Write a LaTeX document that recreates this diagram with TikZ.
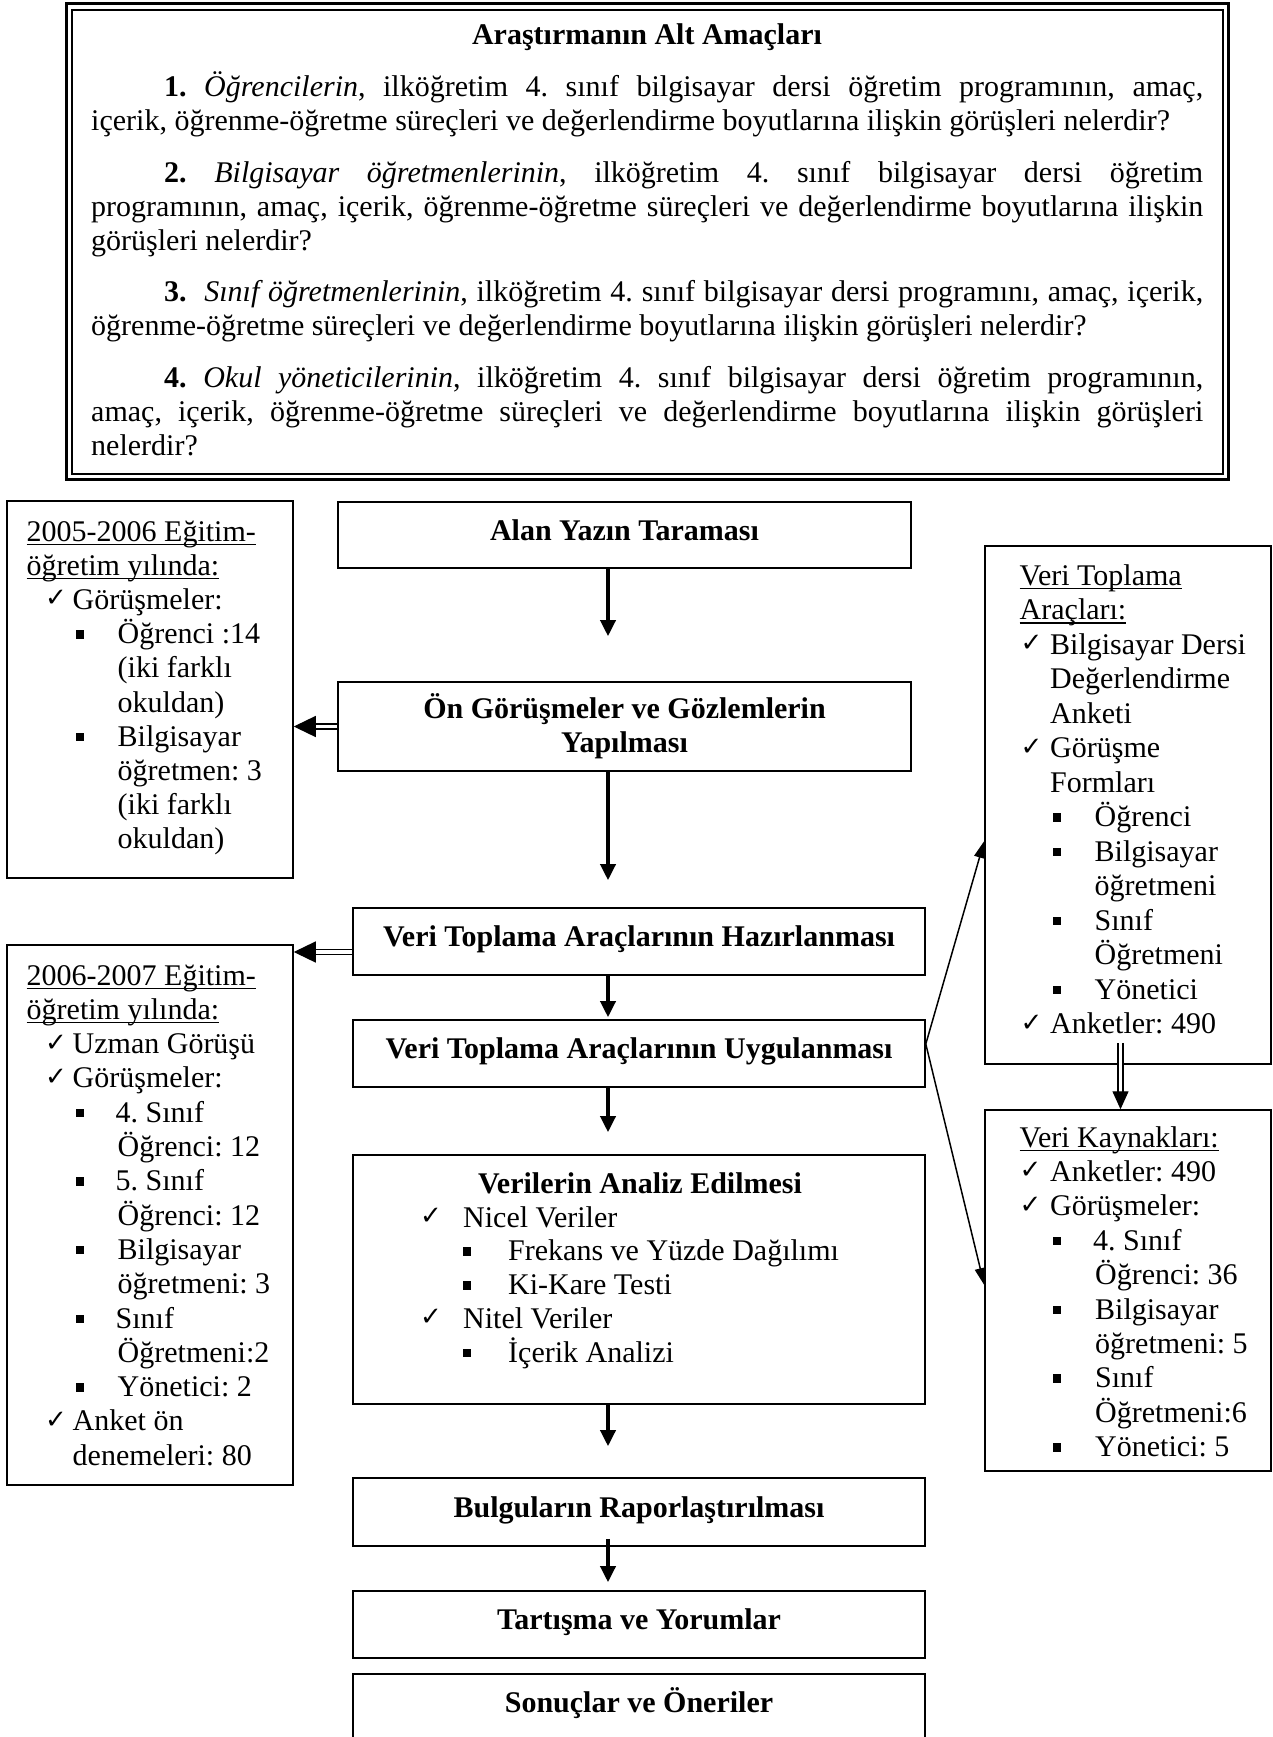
\documentclass[tikz,border=0pt]{standalone}
\usepackage{fontspec}
\setmainfont{Liberation Serif}
\newfontfamily\dejavu{DejaVu Sans}
\usetikzlibrary{arrows.meta,calc}
\frenchspacing

% underline at a fixed depth under the baseline
\newlength\ulwd
\newcommand\undl[1]{\settowidth\ulwd{#1}\makebox[0pt][l]{\rule[-4pt]{\ulwd}{1.5pt}}#1}
% check mark and square bullet
\newcommand\chk{\raisebox{2.5pt}{\dejavu\fontsize{26pt}{26pt}\selectfont ✓}}
\newcommand\sqb{\rule[5pt]{8pt}{8.5pt}}
% put #2 at offset #1 from the start of the line, taking no width
\newcommand\putat[2]{\makebox[0pt][l]{\hspace*{#1}#2}}
% a justified line across the full width
\newcommand\jline[1]{\makebox[\linewidth][s]{#1}}

\begin{document}
\begin{tikzpicture}[x=1pt,y=-1pt,
  font={\fontsize{30pt}{34pt}\selectfont},
  frame/.style={draw, line width=1.6pt, inner sep=0pt},
  sideframe/.style={draw, line width=1.5pt, inner sep=0pt},
  onetext/.style={font={\fontsize{30pt}{34pt}\selectfont\bfseries}, text height=22pt, text depth=12pt},
  txt/.style={inner sep=0pt, anchor=base west},
  mainarr/.style={line width=3.5pt, -{Triangle[width=15pt,length=16pt]}},
  dblarr/.style={double, double distance=3.6pt, line width=1.3pt, -{Triangle[width=21pt,length=22pt]}},
  thinarr/.style={line width=1.5pt, -{Triangle[width=11pt,length=17pt]}},
]
\fill[white] (0,0) rectangle (1273,1737);
\useasboundingbox (0,0) rectangle (1273,1737);

% ---------- research aims ----------
\node[draw, line width=3pt, inner sep=0pt, minimum width=1162pt, minimum height=475pt] (aimsout) at (647,241.5) {};
\node[draw, line width=1.3pt, inner sep=0pt, minimum width=1151pt, minimum height=464pt] (aimsin) at (647.5,242) {};
\node[inner sep=0pt, anchor=base, font={\fontsize{30pt}{34pt}\selectfont\bfseries}] (aimstitle) at (647,45) {Araştırmanın Alt Amaçları};
\node[txt] (aims) at (91,96.5) {\parbox[t]{1112pt}{\fontsize{30pt}{34pt}\selectfont
\jline{\hspace*{73pt}\textbf{1.} \textit{Öğrencilerin}, ilköğretim 4. sınıf bilgisayar dersi öğretim programının, amaç,}\\
içerik, öğrenme-öğretme süreçleri ve değerlendirme boyutlarına ilişkin görüşleri nelerdir?\\[17.5pt]
\jline{\hspace*{73pt}\textbf{2.} \textit{Bilgisayar öğretmenlerinin}, ilköğretim 4. sınıf bilgisayar dersi öğretim}\\
\jline{programının, amaç, içerik, öğrenme-öğretme süreçleri ve değerlendirme boyutlarına ilişkin}\\
görüşleri nelerdir?\\[17.5pt]
\jline{\hspace*{73pt}\textbf{3.}\ \ \textit{Sınıf öğretmenlerinin}, ilköğretim 4. sınıf bilgisayar dersi programını, amaç, içerik,}\\
öğrenme-öğretme süreçleri ve değerlendirme boyutlarına ilişkin görüşleri nelerdir?\\[17.5pt]
\jline{\hspace*{73pt}\textbf{4.} \textit{Okul yöneticilerinin}, ilköğretim 4. sınıf bilgisayar dersi öğretim programının,}\\
\jline{amaç, içerik, öğrenme-öğretme süreçleri ve değerlendirme boyutlarına ilişkin görüşleri}\\
nelerdir?}};

% ---------- main flow ----------
\node[frame, onetext, minimum width=573pt, minimum height=66pt] (alan) at (624.5,535) {Alan Yazın Taraması};
\node[frame, minimum width=573pt, minimum height=89pt] (on) at (624.5,726.5) {};
\node[inner sep=0pt, anchor=base] (ont) at (624.5,718) {\parbox[t]{560pt}{\centering\bfseries\fontsize{30pt}{34pt}\selectfont Ön Görüşmeler ve Gözlemlerin\\Yapılması}};
\node[frame, onetext, minimum width=572pt, minimum height=67pt] (hazir) at (639,941.5) {Veri Toplama Araçlarının Hazırlanması};
\node[frame, onetext, minimum width=572pt, minimum height=67pt] (uyg) at (639,1053.5) {Veri Toplama Araçlarının Uygulanması};
\node[frame, minimum width=572pt, minimum height=249pt] (ver) at (639,1279.5) {};
\node[inner sep=0pt, anchor=base, font={\fontsize{30pt}{34pt}\selectfont\bfseries}] (vert) at (640,1193) {Verilerin Analiz Edilmesi};
\node[txt] (verl) at (420,1227) {\parbox[t]{480pt}{\raggedright\fontsize{30pt}{33.8pt}\selectfont
\putat{0pt}{\chk}\hspace*{43pt}Nicel Veriler\\
\putat{43pt}{\sqb}\hspace*{88pt}Frekans ve Yüzde Dağılımı\\
\putat{43pt}{\sqb}\hspace*{88pt}Ki-Kare Testi\\
\putat{0pt}{\chk}\hspace*{43pt}Nitel Veriler\\
\putat{43pt}{\sqb}\hspace*{88pt}İçerik Analizi}};
\node[frame, onetext, minimum width=572pt, minimum height=68pt] (bul) at (639,1512) {Bulguların Raporlaştırılması};
\node[frame, onetext, minimum width=572pt, minimum height=67pt] (tar) at (639,1624.5) {Tartışma ve Yorumlar};
\node[frame, onetext, minimum width=572pt, minimum height=67pt] (son) at (639,1707.5) {Sonuçlar ve Öneriler};

\coordinate (ax) at (608,0);
\draw[mainarr] (alan.south -| ax) -- ($(on.north -| ax)+(0,-45)$);
\draw[mainarr] (on.south -| ax) -- ($(hazir.north -| ax)+(0,-27)$);
\draw[mainarr] (hazir.south -| ax) -- ($(uyg.north -| ax)+(0,-2)$);
\draw[mainarr] (uyg.south -| ax) -- ($(ver.north -| ax)+(0,-22)$);
\draw[mainarr] (ver.south -| ax) -- ($(bul.north -| ax)+(0,-31)$);
\draw[mainarr] ($(bul.south -| ax)+(0,-8)$) -- ($(tar.north -| ax)+(0,-8)$);

% ---------- left boxes ----------
\node[sideframe, minimum width=286pt, minimum height=377pt] (box1) at (150,689.5) {};
\node[txt] (box1t) at (26.5,541) {\parbox[t]{300pt}{\raggedright\fontsize{30pt}{34.2pt}\selectfont
\undl{2005-2006 Eğitim-}\\
\undl{öğretim yılında:}\\
\putat{18.5pt}{\chk}\hspace*{46pt}Görüşmeler:\\
\putat{49pt}{\sqb}\hspace*{91pt}Öğrenci :14\\
\hspace*{91pt}(iki farklı\\
\hspace*{91pt}okuldan)\\
\putat{49pt}{\sqb}\hspace*{91pt}Bilgisayar\\
\hspace*{91pt}öğretmen: 3\\
\hspace*{91pt}(iki farklı\\
\hspace*{91pt}okuldan)}};

\node[sideframe, minimum width=286pt, minimum height=540pt] (box2) at (150,1215) {};
\node[txt] (box2t) at (26.5,985) {\parbox[t]{300pt}{\raggedright\fontsize{30pt}{34.3pt}\selectfont
\undl{2006-2007 Eğitim-}\\
\undl{öğretim yılında:}\\
\putat{18.5pt}{\chk}\hspace*{46pt}Uzman Görüşü\\
\putat{18.5pt}{\chk}\hspace*{46pt}Görüşmeler:\\
\putat{49pt}{\sqb}\hspace*{89pt}4. Sınıf\\
\hspace*{91pt}Öğrenci: 12\\
\putat{49pt}{\sqb}\hspace*{89pt}5. Sınıf\\
\hspace*{91pt}Öğrenci: 12\\
\putat{49pt}{\sqb}\hspace*{91pt}Bilgisayar\\
\hspace*{91pt}öğretmeni: 3\\
\putat{49pt}{\sqb}\hspace*{89pt}Sınıf\\
\hspace*{91pt}Öğretmeni:2\\
\putat{49pt}{\sqb}\hspace*{91pt}Yönetici: 2\\
\putat{18.5pt}{\chk}\hspace*{46pt}Anket ön\\
\hspace*{46pt}denemeleri: 80}};

\draw[dblarr] (on.west) -- (on.west -| box1.east);
\coordinate (hz) at ($(hazir.west)+(0,10.5)$);
\draw[dblarr] (hz) -- (hz -| box2.east);

% ---------- right boxes ----------
\node[sideframe, minimum width=286pt, minimum height=518pt] (vta) at (1128,805) {};
\node[txt] (vtat) at (1019.5,585) {\parbox[t]{300pt}{\raggedright\fontsize{30pt}{34.5pt}\selectfont
\undl{Veri Toplama}\\
\undl{Araçları:}\\
\putat{1pt}{\chk}\hspace*{30.5pt}Bilgisayar Dersi\\
\hspace*{30.5pt}Değerlendirme\\
\hspace*{30.5pt}Anketi\\
\putat{1pt}{\chk}\hspace*{30.5pt}Görüşme\\
\hspace*{30.5pt}Formları\\
\putat{33pt}{\sqb}\hspace*{75pt}Öğrenci\\
\putat{33pt}{\sqb}\hspace*{75pt}Bilgisayar\\
\hspace*{75pt}öğretmeni\\
\putat{33pt}{\sqb}\hspace*{75pt}Sınıf\\
\hspace*{75pt}Öğretmeni\\
\putat{33pt}{\sqb}\hspace*{75pt}Yönetici\\
\putat{1pt}{\chk}\hspace*{30.5pt}Anketler: 490}};

\node[sideframe, minimum width=286pt, minimum height=361pt] (vk) at (1128,1290.5) {};
\node[txt] (vkt) at (1019.5,1147) {\parbox[t]{300pt}{\raggedright\fontsize{30pt}{34.4pt}\selectfont
\undl{Veri Kaynakları:}\\
\putat{0pt}{\chk}\hspace*{30.5pt}Anketler: 490\\
\putat{0pt}{\chk}\hspace*{30.5pt}Görüşmeler:\\
\putat{33pt}{\sqb}\hspace*{73.5pt}4. Sınıf\\
\hspace*{75.5pt}Öğrenci: 36\\
\putat{33pt}{\sqb}\hspace*{75.5pt}Bilgisayar\\
\hspace*{75.5pt}öğretmeni: 5\\
\putat{33pt}{\sqb}\hspace*{75.5pt}Sınıf\\
\hspace*{75.5pt}Öğretmeni:6\\
\putat{33pt}{\sqb}\hspace*{75.5pt}Yönetici: 5}};

\coordinate (vtab) at ($(vta.south)+(-7.5,-22)$);
\draw[dblarr, -{Triangle[width=16pt,length=18pt]}] (vtab) -- (vtab |- vk.north);

\coordinate (uo) at ($(uyg.east)+(0,-9.5)$);
\draw[thinarr] (uo) -- ($(vta.west)+(0,36)$);
\draw[thinarr] (uo) -- ($(vk.west)+(0,-5.5)$);
\end{tikzpicture}
\end{document}
